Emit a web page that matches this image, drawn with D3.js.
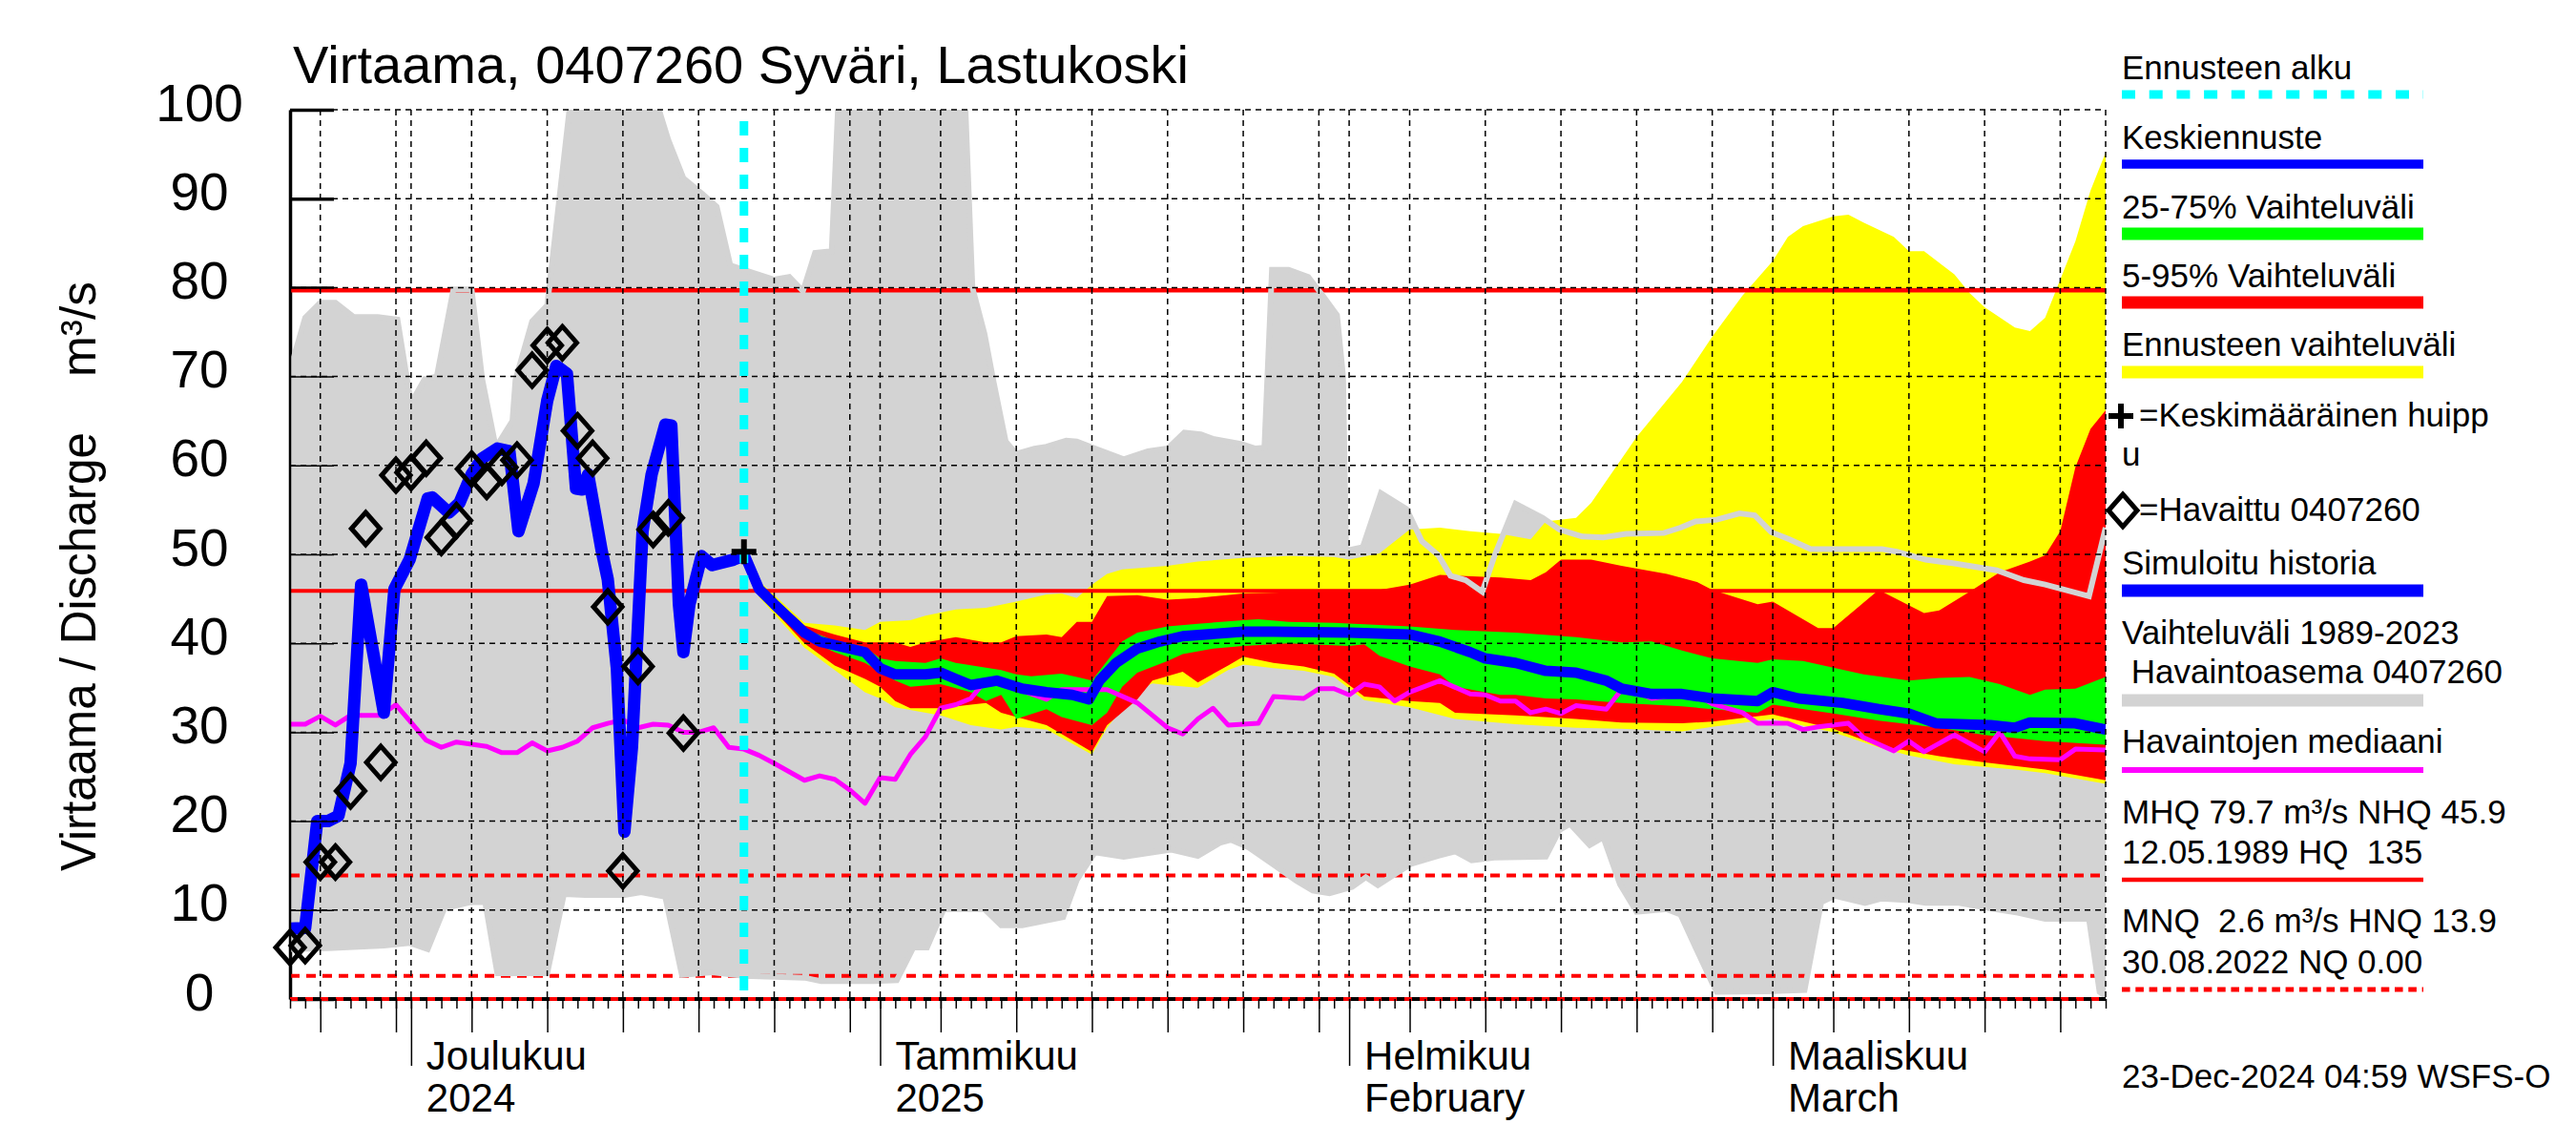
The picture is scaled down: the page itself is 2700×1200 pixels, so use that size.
<!DOCTYPE html>
<html>
<head>
<meta charset="utf-8">
<script src="https://cdn.jsdelivr.net/npm/d3@7"></script>
<style>
  body { margin: 0; background: #fff; }
  text { font-family: "Liberation Sans", Arial, sans-serif; white-space: pre; }
</style>
</head>
<body>
<script>
// days are counted from the first date of the chart
const domainStart = "2024-11-23";
const domainEnd = "2025-03-23";
const forecastStartDay = 30;

const yTicks = [0, 10, 20, 30, 40, 50, 60, 70, 80, 90, 100];
const monthStarts = ["2024-12-01", "2025-01-01", "2025-02-01", "2025-03-01"];
const monthNames = ["Joulukuu", "Tammikuu", "Helmikuu", "Maaliskuu"];
const monthSub = ["2024", "2025", "February", "March"];

// reference levels
const MHQ = 79.7, NHQ = 45.9, HNQ = 13.9, MNQ = 2.6, NQ = 0;

// Vaihteluväli 1989-2023 (grey band)
const grayMaxDays = [0,1,2,3,4.2,5.8,7.1,7.8,8,8.9,9.7,10.8,12,12.7,13.6,14.7,14.9,16,17,18.6,19,23.9,24.2,25,26,27.2,28.2,29.1,30,32,33,33.9,34.7,35.8,36.6,44.3,45.1,45.9,46.5,47.3,48,49.2,50,51.3,52,53.2,55.1,56.7,58,59.1,60.2,61,62.9,63.8,64.4,64.9,66,67.3,68.3,69.2,69.6,69.8,70.9,72.1,73.8,74.8,75.9,76.7,77.7,78.8,79.6,81,82.8,83.9,85.4,86.8,88.3,90.8,91.9,92.9,94.3,95.8,96.8,97.9,99.1,100.5,105.2,106.2,108.1,109.9,112.8,114.6,116,118.9,120];
const grayMaxVals = [70.7,76.6,78.3,78.3,76.7,76.7,76.4,69,67,69.7,70,79.8,79.8,69.7,62,65,69.6,76.2,78,102,115,115,101,96.6,92.3,90.6,89.1,82.5,82,80.9,81.2,79.6,83.9,84.1,115,115,80,74.8,69.4,62.7,61.3,61.9,62.1,62.8,62.7,61.9,60.7,61.6,61.9,63.7,63.5,63,62.4,61.9,62,82,82,81.2,79,76.9,70,50.4,50.8,56.9,55.1,51.5,49.9,47.6,47.1,45.8,49.8,55.7,54.1,52.8,52,51.9,52.3,52.4,53,53.7,53.9,54.6,54.4,52.5,51.7,50.6,50.6,50.3,49.4,49,48.2,47.1,46.6,45.3,53];
const grayMinDays = [0,2.5,6.2,7.9,9.1,10.2,12,12.9,13.7,17,18.1,19.5,22.1,23.2,24.8,25.9,27.9,30,34,35.1,38.6,40.1,41.2,42.1,43.2,45.9,47,48.4,51.1,52,53.2,55.1,58.2,60,61.5,62.2,63.3,65.1,66.5,67.6,68.7,70.2,71.1,71.9,74.1,75.9,77,78.1,79.6,83,83.9,84.6,85.9,86.8,87.9,89,91,91.9,92.9,94,94.3,97.6,100.1,101.2,102.1,104.1,105.2,107,108.1,110.3,112.4,114.2,116,118.9,119.6,120];
const grayMinVals = [5.6,5.7,6.0,6.3,5.6,10.2,10.9,10.9,2.9,2.9,11.8,11.7,11.7,12,11.5,2.7,3.0,2.6,2.4,2.0,2.0,2.1,5.8,5.8,10.1,10.1,8.3,8.3,9.2,13.4,16.5,16,16.8,16.1,17.6,17.9,17.1,15,13.3,12.2,11.9,12.6,13.7,12.8,15.2,16.1,16.6,15.6,15.9,16,19,19.7,17.3,18.2,12.9,9.8,10.1,9.5,5.8,1.8,0.8,0.85,1.0,10.9,11.6,10.8,11.3,11.1,10.8,10.8,10.2,9.7,9.0,9.0,0.8,0.3];

// Ennusteen vaihteluväli (yellow)
const yellowTopDays = [30,31,34,36,38,39,41,42,44,46,48,50,51,52,53,54,55,58,60,63,66,69,70,72,74,76,78,80,82,83,85,86,89,92,94,96,98,99,100,102,103,104,106,107,108,110,111,112,114,115,116,117,118,119,120];
const yellowTopVals = [50,47,42.3,42,41.5,42.4,42.6,43.1,43.8,44,44.7,45.5,45.6,45.1,46.6,47.8,48.3,48.7,49.2,49.6,49.8,49.7,49.4,50.1,52.8,53,52.6,52.3,51.7,53.7,54.1,55.8,63.2,69.4,74.5,79.1,83,85.7,86.9,88,88.2,87.3,85.7,84.1,84.1,81.5,79.4,77.8,75.5,75.1,76.6,80.9,85.2,90.9,95.2];
const yellowBotDays = [30,31,34,36,38,39,40,43,45,47,48,50,53,54,56,57,58,60,62,63,65,67,69,71,74,77,81,85,88,92,94,98,102,105,107,110,114,116,120];
const yellowBotVals = [50,45.2,39.5,37,34.5,33.8,32.8,31.9,30.8,30.3,30.6,30.3,27.5,30.5,34.8,35.5,35.3,35,37,37.6,37.2,36.9,36.2,33.6,32.8,31.5,30.9,30.5,30.4,30.1,30.6,31.5,30,28.3,27.4,26.4,25.8,25.4,24.2];

// 5-95% Vaihteluväli (red)
const redTopDays = [30,31,34,36,38,40,41,42,44,46,47,48,50,51,52,53,54,56,58,60,63,72,74,76,77,80,82,83,84,86,88,91,93,94,97,98,101,102,105,108,109,111,113,115,116,117,118,119,120];
const redTopVals = [50,46.6,42,41,40.1,40.1,39.6,40.1,40.7,40.1,40.1,40.8,41,40.7,42.4,42.4,45.3,45.4,44.9,45.1,45.6,46,46.6,47.7,47.6,47.4,47.1,48,49.4,49.4,48.7,47.8,46.9,46,44.4,44.7,41.7,41.7,46,43.4,43.7,45.8,48,49.2,49.9,52.6,59.8,64.1,66.2];
const redBotDays = [30,31,34,36,38,39,40,41,43,45,46,47,50,53,54,56,57,59,60,62,63,65,67,69,71,74,76,77,81,85,88,92,94,98,102,105,109,112,116,120];
const redBotVals = [50,45.5,40,37.5,36,35.1,33.5,32.7,32.7,33.1,33.3,32.2,30.8,27.8,30.8,33.7,35.8,36.8,35.6,37.5,38.5,37.8,37.4,36.6,34,33.5,33.3,32.2,31.9,31.5,31.1,31,31.2,32,30.4,28.5,27.3,26.6,25.8,24.6];

// 25-75% Vaihteluväli (green)
const greenTopDays = [30,31,34,36,38,39,40,42,43,44,47,48,49,51,52,53,54,55,56,58,60,63,64,66,69,74,77,81,85,88,90,92,94,97,98,100,104,107,109,111,113,115,116,118,120];
const greenTopVals = [50,46.4,41.6,40.3,39.6,38.3,38,37.8,38.3,37.8,37,36.5,36.3,36.6,36.2,35.8,38,40.2,41.2,41.9,42.2,42.6,42.7,42.4,42.3,41.9,41.5,41.2,40.7,40.1,40.2,39.2,38.3,37.8,38.2,38,36.5,35.8,36.1,36.2,35.4,34.2,34.8,34.9,36.2];
const greenBotDays = [30,31,34,36,38,40,41,43,45,46,47,48,50,51,53,54,55,56,58,59,61,63,66,70,71,72,74,76,77,80,81,83,85,88,92,94,97,98,102,105,109,112,116,120];
const greenBotVals = [50,45.8,40.6,39,37.8,35.8,35.1,35.4,34.5,33.5,34.2,31.5,32.6,31.7,30.8,32.2,35.1,36.7,38,38.8,39.4,39.7,40,39.7,39.9,38.6,37.4,36.5,35.1,34.2,34.2,33.8,33.7,33.3,32.9,32.6,32.2,33.1,32.1,31.3,30.5,29.7,29,28.6];

// Keskiennuste (blue forecast median)
const medianDays = [30,31,32,34,35,38,39,40,42,43,44,45,46.7,48.4,50,51.7,52.8,53.5,54.6,56,57.5,59,63,65,70,74,76,78,79,81,83,85,87,88,90,92,94,97,98,99.7,102.6,105,107,108.8,112.4,114,115,118,120];
const medianVals = [50.1,46.1,44.4,41.2,40.2,39,37.2,36.5,36.5,36.7,36,35.3,35.8,34.9,34.5,34.2,33.7,35.8,37.8,39.4,40.2,40.8,41.3,41.3,41.2,41,40.2,39,38.3,37.8,36.9,36.7,35.8,34.9,34.3,34.3,33.8,33.5,34.5,33.8,33.3,32.6,32.1,31,30.8,30.5,31.1,31,30.3];

// Simuloitu historia
const simDays = [0,1,1.8,2.5,3.2,4,4.7,6.2,6.9,7.9,9.1,9.4,10.5,11.2,12,12.7,13.7,14.5,15.1,16.1,17,17.6,18.3,18.9,19.3,19.7,20.6,21,21.6,22.1,22.6,23.3,23.9,24.8,25.2,25.7,26,26.4,27.2,27.9,29.3,30];
const simVals = [7.9,8,20,20,20.6,26.5,46.6,32.2,46.1,49.4,56.3,56.4,54.7,55.8,59,60.8,61.9,61.6,52.6,58,67.3,71.2,70.3,57.4,57.3,59,50.4,47.2,37.2,18.8,28.3,52.6,59,64.6,64.5,44.4,39,44.4,49.8,48.8,49.4,49.9];

// Havaittu 0407260 (observed, daily)
const obsDays = [0,1,2,3,4,5,6,7,8,9,10,11,12,13,14,15,16,17,18,19,20,21,22,23,24,25,26];
const obsVals = [5.8,6,15.4,15.4,23.4,52.9,26.6,58.9,59.2,60.8,51.9,53.8,59.6,58.2,59.8,60.6,70.7,73.5,73.8,63.9,60.8,44.1,14.4,37.4,52.8,54.1,29.9];

// Keskimääräinen huippu
const peakDay = 30, peakVal = 50.3;

// Havaintojen mediaani
const medObsDays = [0,1,2,3,4,6,7,8,9,10,11,13,14,15,16,17,18,19,20,21,22,23,24,25,26,27,28,29,30,31,32,34,35,36,37,38,39,40,41,42,43,44,45,46,47,48,50,51,54,56,58,59,60,61,62,64,65,67,68,69,70,71,72,73,74,76,78,79,80,81,82,83,84,85,87,88,89,90,91,93,94,96,97,99,100,101,103,104,106,107,108,110,112,113,114,115,117,118,120];
const medObsVals = [30.9,30.9,31.8,30.8,31.9,31.9,33.1,31.1,29.1,28.3,28.9,28.4,27.7,27.7,28.8,27.9,28.3,29,30.5,31,31.4,30.5,30.9,30.8,30,30,30.5,28.3,28.1,27.4,26.5,24.6,25.1,24.7,23.5,22,24.9,24.7,27.5,29.5,32.7,33.1,33.8,35.9,35.4,34.9,33.7,34.8,34.8,33.3,30.5,29.8,31.5,32.7,30.8,31,34,33.8,34.9,34.9,34.2,35.4,35.1,33.5,34.5,35.8,34.3,34.2,33.5,33.5,32.2,32.6,32.1,33,32.6,34.8,34.5,33.8,34,34.2,33.2,32.2,31,31,30.3,30.6,31,29.4,27.9,29,27.8,29.7,27.8,30,27.3,27,26.9,28.1,28];

const C = { gray: "#d3d3d3", yellow: "#ffff00", red: "#ff0000", green: "#00ff00",
            blue: "#0000ff", magenta: "#ff00ff", cyan: "#00ffff" };

const svg = d3.select("body").append("svg")
  .attr("width", 2700).attr("height", 1200);

const parse = d3.utcParse("%Y-%m-%d");
const t0 = parse(domainStart);
const dayToDate = d => new Date(t0.getTime() + d * 864e5);

const x = d3.scaleUtc().domain([t0, parse(domainEnd)]).range([304, 2207]);
const y = d3.scaleLinear().domain([0, 100]).range([1047, 115]);
const [xL, xR] = x.range();
const [yB, yT] = y.range();

const zip = (ds, vs) => ds.map((d, i) => [d, vs[i]]);
const line = d3.line().x(p => x(dayToDate(p[0]))).y(p => y(p[1]));

svg.append("clipPath").attr("id", "plot")
  .append("rect").attr("x", xL).attr("y", yT).attr("width", xR - xL).attr("height", yB - yT);

// y axis, thick version under the bands
function drawYAxis(w, labels) {
  const yAxis = d3.axisLeft(y).tickValues(yTicks).tickSize(-46).tickSizeOuter(0);
  if (!labels) yAxis.tickFormat("");
  const yg = svg.append("g").attr("transform", `translate(${xL},0)`).call(yAxis);
  yg.selectAll("path, line").attr("stroke-width", w);
  yg.attr("font-family", null);
  return yg;
}
const yLabels = drawYAxis(3.5, true);
yLabels.selectAll("text").attr("x", -95).attr("dy", "0.2em").attr("text-anchor", "middle")
  .attr("font-size", 55);

const plot = svg.append("g").attr("clip-path", "url(#plot)");

function band(topD, topV, botD, botV, color) {
  const pts = zip(topD, topV).concat(zip(botD, botV).reverse());
  plot.append("path").attr("d", line(pts) + "Z").attr("fill", color);
}

band(grayMaxDays, grayMaxVals, grayMinDays, grayMinVals, C.gray);
band(yellowTopDays, yellowTopVals, yellowBotDays, yellowBotVals, C.yellow);
band(redTopDays, redTopVals, redBotDays, redBotVals, C.red);
band(greenTopDays, greenTopVals, greenBotDays, greenBotVals, C.green);

// thin axis over the bands
drawYAxis(1.5, false);

// grid
const allDays = d3.utcDay.range(t0, d3.utcDay.offset(parse(domainEnd), 1));
const gridDays = allDays.filter(d => [1, 5, 10, 15, 20, 25, 30].includes(d.getUTCDate()));
const grid = svg.append("g").attr("stroke", "#000").attr("stroke-width", 1.5)
  .attr("stroke-dasharray", "6,5");
grid.selectAll(".vg").data(gridDays).enter().append("line")
  .attr("x1", d => x(d)).attr("x2", d => x(d)).attr("y1", yT).attr("y2", yB);
grid.selectAll(".hg").data(yTicks.slice(1)).enter().append("line")
  .attr("x1", xL).attr("x2", xR).attr("y1", d => y(d)).attr("y2", d => y(d));
grid.append("line").attr("x1", xR).attr("x2", xR).attr("y1", yT).attr("y2", yB);

// reference levels
function level(v, w, dash) {
  plot.append("line").attr("x1", xL).attr("x2", xR).attr("y1", y(v)).attr("y2", y(v))
    .attr("stroke", C.red).attr("stroke-width", w).attr("stroke-dasharray", dash);
}
level(MHQ, 4.5, null);
level(NHQ, 4, null);
level(HNQ, 4, "10,7");
level(MNQ, 4, "10,7");
svg.append("line").attr("x1", xL).attr("x2", xR).attr("y1", y(0)).attr("y2", y(0))
  .attr("stroke", "#000").attr("stroke-width", 4);
svg.append("line").attr("x1", xL).attr("x2", xR).attr("y1", y(NQ)).attr("y2", y(NQ))
  .attr("stroke", C.red).attr("stroke-width", 4).attr("stroke-dasharray", "8,8");

// outline of the grey band
[zip(grayMaxDays, grayMaxVals), zip(grayMinDays, grayMinVals)].forEach(pts => {
  plot.append("path").attr("d", line(pts)).attr("fill", "none")
    .attr("stroke", C.gray).attr("stroke-width", 6);
});

plot.append("path").attr("d", line(zip(medObsDays, medObsVals))).attr("fill", "none")
  .attr("stroke", C.magenta).attr("stroke-width", 5).attr("stroke-linejoin", "round");

// forecast start
svg.append("line")
  .attr("x1", x(dayToDate(forecastStartDay))).attr("x2", x(dayToDate(forecastStartDay)))
  .attr("y1", 127).attr("y2", yB)
  .attr("stroke", C.cyan).attr("stroke-width", 9).attr("stroke-dasharray", "15,13");

plot.append("path").attr("d", line(zip(medianDays, medianVals))).attr("fill", "none")
  .attr("stroke", C.blue).attr("stroke-width", 11).attr("stroke-linejoin", "round");
plot.append("path").attr("d", line(zip(simDays, simVals))).attr("fill", "none")
  .attr("stroke", C.blue).attr("stroke-width", 13).attr("stroke-linejoin", "round");

const diamond = "M0,-17L15,0L0,17L-15,0Z";
const plus = "M-13,0H13M0,-13V13";
svg.selectAll(".obs").data(zip(obsDays, obsVals)).enter().append("path")
  .attr("d", diamond)
  .attr("transform", p => `translate(${x(dayToDate(p[0]))},${y(p[1])})`)
  .attr("fill", "none").attr("stroke", "#000").attr("stroke-width", 5);
svg.append("path").attr("d", plus)
  .attr("transform", `translate(${x(dayToDate(peakDay))},${y(peakVal)})`)
  .attr("stroke", "#000").attr("stroke-width", 6);

// x axis ticks
function xTicks(vals, size) {
  const g = svg.append("g").attr("transform", `translate(0,${yB})`)
    .call(d3.axisBottom(x).tickValues(vals).tickSize(size).tickFormat(""));
  g.select(".domain").remove();
  g.selectAll("line").attr("stroke-width", 1.5);
}
xTicks(allDays, 10);
xTicks(gridDays.filter(d => d.getUTCDate() !== 1), 35);
xTicks(monthStarts.map(parse), 70);

const ml = svg.append("g").attr("font-size", 42);
monthStarts.forEach((m, i) => {
  const mx = x(parse(m)) + 16;
  ml.append("text").attr("x", mx).attr("y", 1121).text(monthNames[i]);
  ml.append("text").attr("x", mx).attr("y", 1165).text(monthSub[i]);
});

// titles
svg.append("text").attr("x", 307).attr("y", 87).attr("font-size", 56)
  .text("Virtaama, 0407260 Syväri, Lastukoski");
svg.append("text").attr("transform", "translate(100,913) rotate(-90)")
  .attr("font-size", 52).attr("textLength", 460).attr("lengthAdjust", "spacingAndGlyphs")
  .text("Virtaama / Discharge");
svg.append("text").attr("transform", "translate(100,395) rotate(-90)")
  .attr("font-size", 52).attr("textLength", 100).attr("lengthAdjust", "spacingAndGlyphs")
  .text("m³/s");

// legend
const lg = svg.append("g").attr("font-size", 35);
const lx = 2224, lw = 316;
function ltext(t, yy, xx) { lg.append("text").attr("x", xx || lx).attr("y", yy).text(t); }
function lline(yy, color, w, dash) {
  lg.append("line").attr("x1", lx).attr("x2", lx + lw).attr("y1", yy).attr("y2", yy)
    .attr("stroke", color).attr("stroke-width", w).attr("stroke-dasharray", dash || null);
}
ltext("Ennusteen alku", 83); lline(99, C.cyan, 9, "14,14.7");
ltext("Keskiennuste", 156); lline(172, C.blue, 9.5);
ltext("25-75% Vaihteluväli", 229); lline(245, C.green, 13);
ltext("5-95% Vaihteluväli", 301); lline(317, C.red, 13);
ltext("Ennusteen vaihteluväli", 373); lline(390, C.yellow, 13);
lg.append("path").attr("d", plus).attr("transform", "translate(2223,436)")
  .attr("stroke", "#000").attr("stroke-width", 6);
ltext("=Keskimääräinen huipp", 447, 2242);
ltext("u", 488);
lg.append("path").attr("d", diamond).attr("transform", "translate(2225,535)")
  .attr("fill", "none").attr("stroke", "#000").attr("stroke-width", 5);
ltext("=Havaittu 0407260", 546, 2242);
ltext("Simuloitu historia", 602); lline(619, C.blue, 13);
ltext("Vaihteluväli 1989-2023", 675);
ltext(" Havaintoasema 0407260", 716);
lline(734, C.gray, 13);
ltext("Havaintojen mediaani", 789); lline(807, C.magenta, 6);
ltext("MHQ 79.7 m³/s NHQ 45.9", 863);
ltext("12.05.1989 HQ  135", 905); lline(922, C.red, 4.5);
ltext("MNQ  2.6 m³/s HNQ 13.9", 977);
ltext("30.08.2022 NQ 0.00", 1020); lline(1037, C.red, 5, "8.6,5.7");
ltext("23-Dec-2024 04:59 WSFS-O", 1140);
</script>
</body>
</html>
